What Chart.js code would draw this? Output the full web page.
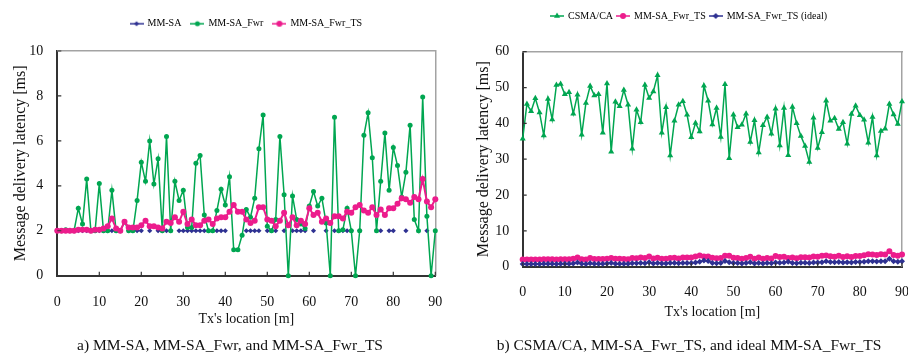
<!DOCTYPE html>
<html>
<head>
<meta charset="utf-8">
<script src="https://cdn.jsdelivr.net/npm/chart.js@4.4.1/dist/chart.umd.min.js"></script>
<style>
  html, body { margin:0; padding:0; background:#fff; }
  #boxA { position:absolute; left:0; top:0; width:460px; height:355px; }
  #boxB { position:absolute; left:470px; top:0; width:438px; height:355px; }
</style>
</head>
<body>
<div id="boxA"><canvas id="chartA" width="460" height="355"></canvas></div>
<div id="boxB"><canvas id="chartB" width="438" height="355"></canvas></div>
<script>
// Tx location [m], one sample per metre
const locations = [0,1,2,3,4,5,6,7,8,9,10,11,12,13,14,15,16,17,18,19,20,21,22,23,24,25,26,27,28,29,
  30,31,32,33,34,35,36,37,38,39,40,41,42,43,44,45,46,47,48,49,50,51,52,53,54,55,56,57,58,59,
  60,61,62,63,64,65,66,67,68,69,70,71,72,73,74,75,76,77,78,79,80,81,82,83,84,85,86,87,88,89,90];

// a) latency [ms]
const mmSa = [2,2,2,2,2,2,2,2,2,2, 2,2,2,2,2,2,null,2,2,2,
  2,null,2,null,2,2,2,2,null,2, 2,2,2,2,2,2,2,2,2,2,
  2,null,null,null,null,2,2,2,2,null, 2,2,2,null,2,null,2,2,2,2,
  null,2,null,null,2,null,2,2,2,2, 2,null,2,null,null,null,null,2,null,2,
  2,null,null,2,null,null,null,null,2,null, null];
const mmSaFwr = [2,2,2.05,2,2,3.0,2.3,4.3,2,2, 4.1,2,2,3.8,2,2,2.4,2,2,3.35,
  5.05,4.2,6.0,4.08,5.2,2,6.2,2,4.2,3.35, 3.8,2.15,2.15,5.0,5.35,2.7,2,2,2.9,3.85,
  3.15,4.4,1.15,1.15,1.8,2.95,2.6,3.45,5.65,7.15, 2.2,2,2.5,6.2,3.6,0,3.55,2.5,2.3,2.1,
  3.1,3.75,3.1,3.45,2.35,0,7.05,2,2.05,3.0, 2,0,2,6.25,7.25,5.25,2,4.2,6.35,3.8,
  5.7,4.9,3.5,4.6,6.7,2.5,2,7.95,2.65,0, 2];
const mmSaFwrTs = [2.0,2.0,2.0,2.0,2.0,2.05,2.05,2.05,2.0,2.05, 2.05,2.1,2.2,2.55,2.1,2.0,2.4,2.15,2.15,2.15,
  2.25,2.45,2.2,2.2,2.15,2.1,2.4,2.35,2.6,2.4, 2.85,2.3,2.5,2.25,2.25,2.45,2.5,2.3,2.55,2.6,
  2.6,2.85,3.15,2.85,2.85,2.5,2.35,2.45,3.05,3.05, 2.5,2.45,2.2,2.45,2.8,2.25,2.6,2.25,2.45,2.3,
  3.0,2.7,2.8,2.4,2.55,2.35,2.65,2.65,2.55,2.85, 2.8,3.05,3.15,2.9,2.8,3.05,2.7,2.95,2.7,3.0,
  3.0,3.2,3.45,3.4,3.25,3.5,3.4,4.3,3.3,3.05, 3.4];

// b) latency [ms]
const csmaCa = [35.7,45.4,43.4,47.0,43.0,36.6,46.8,41.1,50.7,51.0, 48.1,48.7,42.7,48.0,36.8,45.7,50.4,47.8,48.1,37.4,
  51.1,32.1,46.0,44.8,49.3,45.2,32.9,43.8,40.3,50.7, 47.1,48.9,53.4,37.4,44.5,31.0,40.7,45.2,46.2,42.4,
  36.1,40.1,37.7,50.5,46.3,39.7,44.3,36.2,50.9,30.3, 42.4,38.9,39.6,42.7,34.8,40.9,31.9,39.5,41.8,37.1,
  44.1,33.8,44.3,31.1,44.6,40.0,36.5,33.7,29.2,41.6, 33.1,37.5,46.3,40.7,41.4,38.4,40.3,34.3,42.6,44.9,
  42.3,41.0,34.6,41.8,31.0,37.9,38.5,45.4,42.5,39.8, 46.1];
const mmSaFwrTsIdeal = [0.75,0.75,0.75,0.75,0.75,0.8,0.8,0.8,0.75,0.8, 0.8,0.8,0.9,1.15,0.8,0.75,0.95,0.85,0.85,0.85,
  0.9,1.0,0.85,0.85,0.85,0.8,0.95,0.95,1.05,0.95, 1.25,0.9,1.0,0.9,0.9,1.0,1.0,0.95,1.0,1.05,
  1.05,1.2,1.35,1.7,1.6,1.05,0.95,1.0,1.6,1.25, 1.0,1.0,0.9,1.0,1.25,0.9,1.05,0.9,1.0,0.95,
  1.2,1.1,1.15,1.35,1.05,0.95,1.1,1.1,1.05,1.15, 1.15,1.25,1.5,1.3,1.25,1.3,1.15,1.25,1.15,1.3,
  1.3,1.4,1.5,1.5,1.45,1.55,1.5,2.2,1.5,1.4, 1.55];

const FONT = "'Liberation Serif', 'Times New Roman', serif";
const BLUE = '#2e3192', GREEN = '#00a651', PINK = '#ec1c8c';
const INK = '#111';

Chart.defaults.font.family = FONT;
Chart.defaults.color = INK;

// little "line + marker" swatch for the legend
function legendIcon(color, style, radius){
  const c = document.createElement('canvas');
  c.width = 14; c.height = 10;
  const g = c.getContext('2d');
  g.strokeStyle = color; g.lineWidth = 1.5;
  g.beginPath(); g.moveTo(0,5); g.lineTo(14,5); g.stroke();
  g.fillStyle = color;
  Chart.helpers.drawPoint(g, {pointStyle: style, radius: radius, borderWidth: 0}, 7, 5);
  return c;
}

function series(label, data, color, style, radius, width, order){
  return {
    label, data, order,
    borderColor: color, backgroundColor: color, borderWidth: width,
    pointStyle: style, pointRadius: radius, pointHoverRadius: radius,
    pointBackgroundColor: color, pointBorderWidth: 0,
    tension: 0, spanGaps: false, clip: false,
    icon: legendIcon(color, style, radius)
  };
}

// inward tick marks
const innerTicks = {
  id: 'innerTicks',
  afterDraw(chart){
    const {ctx, chartArea: a, scales: {x, y}} = chart;
    ctx.save();
    ctx.strokeStyle = '#333'; ctx.lineWidth = 1.2;
    ctx.beginPath();
    x.ticks.forEach(t => { const p = x.getPixelForValue(t.value); ctx.moveTo(p, a.bottom); ctx.lineTo(p, a.bottom - 4); });
    y.ticks.forEach(t => { const p = y.getPixelForValue(t.value); ctx.moveTo(a.left, p); ctx.lineTo(a.left + 4, p); });
    ctx.stroke();
    ctx.restore();
  }
};

function makeOptions(cfg){
  const noPad = s => { s.paddingLeft = 0; s.paddingRight = 0; s.paddingTop = 0; s.paddingBottom = 0; };
  return {
    responsive: false, animation: false, devicePixelRatio: 1,
    layout: { padding: { top: cfg.padTop, left: 0, right: 0, bottom: 0 } },
    plugins: {
      legend: {
        position: 'top', fullSize: cfg.legendFull,
        labels: {
          usePointStyle: true, pointStyleWidth: 12, padding: cfg.legendPad,
          font: { size: 10 }, color: INK,
          generateLabels: chart => chart.data.datasets.map((ds, i) => ({
            text: ds.label, pointStyle: ds.icon, fillStyle: ds.borderColor,
            strokeStyle: ds.borderColor, lineWidth: 0, hidden: false, datasetIndex: i
          }))
        }
      },
      title: {
        display: true, position: 'bottom', text: cfg.caption,
        font: { size: 15.5, weight: 'normal' }, color: INK, padding: { top: 6, bottom: 0 }
      },
      tooltip: { enabled: false }
    },
    scales: {
      x: {
        type: 'linear', min: 0, max: 90,
        ticks: { stepSize: 10, padding: cfg.xTickPad, maxRotation: 0, font: { size: 14 }, color: INK },
        grid: { display: false, drawTicks: false },
        border: { color: '#333', width: 2 },
        title: { display: true, text: "Tx's location [m]", font: { size: 14 }, color: INK, padding: { top: 0, bottom: cfg.xTitlePad } },
        afterFit: s => { s.height = cfg.xHeight; noPad(s); }
      },
      y: {
        min: 0, max: cfg.yMax,
        ticks: { stepSize: cfg.yStep, padding: cfg.yTickPad, font: { size: 14 }, color: INK },
        grid: { display: false, drawTicks: false },
        border: { color: '#333', width: 2 },
        title: { display: true, text: 'Message delivery latency [ms]', font: { size: 16 }, color: INK, padding: { top: cfg.yTitlePad, bottom: 0 } },
        afterFit: s => { s.width = cfg.yWidth; noPad(s); }
      },
      xTop: {
        type: 'linear', position: 'top', min: 0, max: 90,
        ticks: { display: false }, grid: { display: false, drawTicks: false },
        border: { color: '#a3a3a3', width: 1.5 },
        afterFit: s => { s.height = cfg.topGap; noPad(s); }
      },
      yRight: {
        position: 'right', min: 0, max: cfg.yMax,
        ticks: { display: false }, grid: { display: false, drawTicks: false },
        border: { color: '#a3a3a3', width: 1.5 },
        afterFit: s => { s.width = cfg.rightGap; noPad(s); }
      }
    }
  };
}

new Chart(document.getElementById('chartA'), {
  type: 'line',
  data: {
    labels: locations,
    datasets: [
      series('MM-SA', mmSa, BLUE, 'rectRot', 2.6, 1.2, 2),
      series('MM-SA_Fwr', mmSaFwr, GREEN, 'circle', 2.5, 1.5, 1),
      series('MM-SA_Fwr_TS', mmSaFwrTs, PINK, 'circle', 3, 2, 0)
    ]
  },
  options: makeOptions({
    caption: 'a) MM-SA, MM-SA_Fwr, and MM-SA_Fwr_TS',
    padTop: 8.7, legendFull: false, legendPad: 10, topGap: 12.3, rightGap: 24.7,
    yMax: 10, yStep: 2, yWidth: 57.3, yTickPad: 14, yTitlePad: 11.4,
    xHeight: 54.7, xTickPad: 18.4, xTitlePad: 3.0
  }),
  plugins: [innerTicks]
});

new Chart(document.getElementById('chartB'), {
  type: 'line',
  data: {
    labels: locations,
    datasets: [
      series('CSMA/CA', csmaCa, GREEN, 'triangle', 3.5, 1.5, 2),
      series('MM-SA_Fwr_TS', mmSaFwrTs, PINK, 'circle', 3, 2, 1),
      series('MM-SA_Fwr_TS (ideal)', mmSaFwrTsIdeal, BLUE, 'rectRot', 3, 1.5, 0)
    ]
  },
  options: makeOptions({
    caption: 'b) CSMA/CA, MM-SA_Fwr_TS, and ideal MM-SA_Fwr_TS',
    padTop: 7, legendFull: true, legendPad: 4, topGap: 20.7, rightGap: 6,
    yMax: 60, yStep: 10, yWidth: 52.7, yTickPad: 13.4, yTitlePad: 3.7,
    xHeight: 63.7, xTickPad: 17.6, xTitlePad: 9.7
  }),
  plugins: [innerTicks]
});
</script>
</body>
</html>
